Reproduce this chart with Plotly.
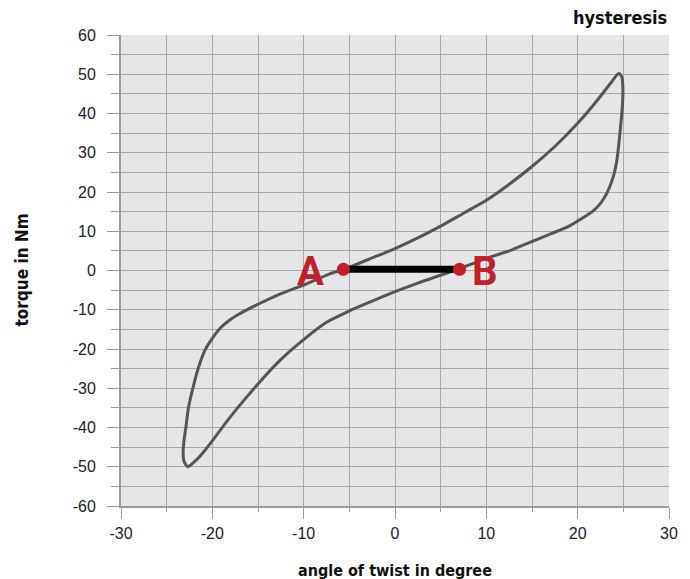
import plotly.graph_objects as go

# Hysteresis loop: upper branch (bottom-left tip -> top-right tip)
upper_x = [-22.7, -23.1, -23.2, -23.1, -22.9, -22.6, -22.1, -21.5, -20.8, -20.0, -19.1, -18.2, -17.3,
           -15.0, -12.6, -10.1, -7.2, -5.6, -2.5, 0.0, 2.5, 5.0, 7.5, 10.0, 12.4, 15.0, 17.5, 20.0,
           22.2, 23.6, 24.5]
upper_y = [-50.0, -48.6, -46.5, -43.3, -40.0, -34.8, -29.7, -24.6, -20.3, -17.3, -14.6, -12.8, -11.4,
           -8.6, -6.0, -3.8, -0.9, 0.3, 3.2, 5.6, 8.3, 11.3, 14.6, 17.9, 21.8, 26.5, 31.6, 37.5,
           43.5, 47.7, 50.2]
# lower branch (top-right tip -> bottom-left tip)
lower_x = [24.85, 24.95, 24.9, 24.7, 24.3, 23.9, 23.2, 22.5, 21.6, 20.5, 18.9, 17.1, 14.9, 12.75,
           10.0, 7.1, 5.0, 2.5, 0.0, -2.5, -5.0, -7.5, -10.1, -12.6, -15.0, -17.3, -18.6, -19.9,
           -21.3, -22.2, -22.7]
lower_y = [49.2, 46.5, 42.0, 36.7, 28.2, 23.9, 19.7, 17.1, 15.0, 13.3, 11.1, 9.4, 7.3, 5.2,
           3.1, 0.5, -1.2, -3.2, -5.4, -7.8, -10.3, -13.2, -17.8, -22.9, -28.9, -35.2, -39.0, -43.1,
           -47.2, -49.2, -50.0]

point_labels = ["A", "B"]
point_x = [-5.65, 7.07]
point_y = [0.3, 0.3]

x_ticks = [-30, -20, -10, 0, 10, 20, 30]
x_ticktext = ["-30", "-20", "-10", "0", "10", "20", "30"]
y_ticks = [-60, -50, -40, -30, -20, -10, 0, 10, 20, 30, 40, 50, 60]
y_ticktext = ["-60", "-50", "-40", "-30", "-20", "-10", "0", "10", "20", "30", "40", "50", "60"]

title_text = "hysteresis"
x_title = "angle of twist in degree"
y_title = "torque in Nm"

RED = "#c1202b"
BOLD = "DejaVu Sans Condensed, Liberation Sans Narrow, Roboto, sans-serif"

fig = go.Figure()
fig.add_trace(go.Scatter(
    x=upper_x + lower_x, y=upper_y + lower_y, mode="lines",
    line=dict(color="#555558", width=3, shape="spline", smoothing=0.7),
    hoverinfo="skip", showlegend=False))
fig.add_trace(go.Scatter(
    x=point_x, y=point_y, mode="lines",
    line=dict(color="#000000", width=7), hoverinfo="skip", showlegend=False))
fig.add_trace(go.Scatter(
    x=point_x, y=point_y, mode="markers",
    marker=dict(color=RED, size=13), hoverinfo="skip", showlegend=False))

for lab, px, py, xs in zip(point_labels, point_x, point_y, [-33, 25]):
    fig.add_annotation(x=px, y=py, text="<b>%s</b>" % lab, showarrow=False, xshift=xs, yshift=-2,
                       font=dict(family="Roboto, sans-serif", size=40, color=RED))

grid = "#a9a9ab"
tickfont = dict(family="Liberation Sans, Arial, sans-serif", size=16, color="#222222")
axis_common = dict(showline=True, linecolor="#9a9a9c", linewidth=2, zeroline=False,
                   showgrid=True, gridcolor=grid, gridwidth=1, ticks="outside",
                   tickcolor="#9a9a9c", tickwidth=1, tickfont=tickfont)

fig.update_xaxes(range=[-30, 30], tickvals=x_ticks, ticktext=x_ticktext, ticklen=11,
                 minor=dict(dtick=5, tick0=0, ticklen=4, ticks="outside", tickcolor="#9a9a9c",
                            showgrid=True, gridcolor=grid, gridwidth=1),
                 ticklabelstandoff=1, **axis_common)
fig.update_yaxes(range=[-60, 60], tickvals=y_ticks, ticktext=y_ticktext, ticklen=12,
                 minor=dict(dtick=5, tick0=0, ticklen=8, ticks="outside", tickcolor="#9a9a9c",
                            showgrid=True, gridcolor=grid, gridwidth=1),
                 ticklabelstandoff=8, **axis_common)

fig.add_annotation(xref="paper", yref="paper", x=1.0, y=1.0, yshift=18, xanchor="right", yanchor="middle",
                   text="<b>%s</b>" % title_text, showarrow=False,
                   font=dict(family=BOLD, size=18, color="#111111"))
fig.add_annotation(xref="paper", yref="paper", x=0.5, y=0, yshift=-64, xanchor="center", yanchor="middle",
                   text="<b>%s</b>" % x_title, showarrow=False,
                   font=dict(family=BOLD, size=16, color="#111111"))
fig.add_annotation(xref="paper", yref="paper", x=0, xshift=-100, y=0.5, xanchor="center", yanchor="middle",
                   text="<b>%s</b>" % y_title, showarrow=False, textangle=-90,
                   font=dict(family=BOLD, size=17, color="#111111"))

fig.update_layout(width=682, height=571, margin=dict(l=113, r=19, t=27, b=73),
                  plot_bgcolor="#e6e6e8", paper_bgcolor="#ffffff")
fig.write_html("out.html")
